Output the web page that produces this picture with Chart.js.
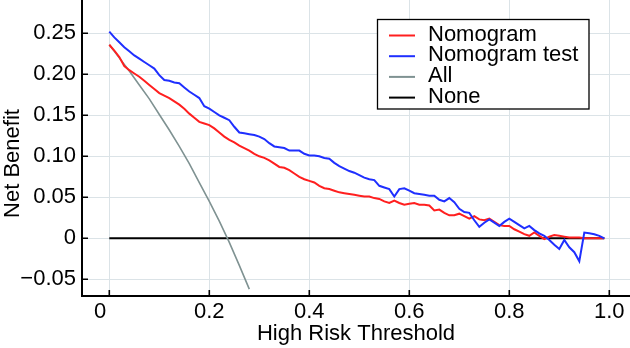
<!DOCTYPE html>
<html><head><meta charset="utf-8">
<script src="https://cdn.jsdelivr.net/npm/chart.js@4/dist/chart.umd.min.js"></script>
<style>html,body{margin:0;padding:0;background:#fff}#c{display:block}</style>
</head><body>
<canvas id="c" width="630" height="348"></canvas>
<script>
// ---- data ----
const thresholds = [0.00,0.01,0.02,0.03,0.04,0.05,0.06,0.07,0.08,0.09,
  0.10,0.11,0.12,0.13,0.14,0.15,0.16,0.17,0.18,0.19,
  0.20,0.21,0.22,0.23,0.24,0.25,0.26,0.27,0.28,0.29,
  0.30,0.31,0.32,0.33,0.34,0.35,0.36,0.37,0.38,0.39,
  0.40,0.41,0.42,0.43,0.44,0.45,0.46,0.47,0.48,0.49,
  0.50,0.51,0.52,0.53,0.54,0.55,0.56,0.57,0.58,0.59,
  0.60,0.61,0.62,0.63,0.64,0.65,0.66,0.67,0.68,0.69,
  0.70,0.71,0.72,0.73,0.74,0.75,0.76,0.77,0.78,0.79,
  0.80,0.81,0.82,0.83,0.84,0.85,0.86,0.87,0.88,0.89,
  0.90,0.91,0.92,0.93,0.94,0.95,0.96,0.97,0.98,0.99];
const nomogram = [0.236,0.229,0.221,0.210,0.205,0.201,0.197,0.192,0.187,0.182,
  0.177,0.174,0.171,0.167,0.163,0.158,0.152,0.147,0.142,0.140,
  0.138,0.134,0.129,0.124,0.120,0.117,0.113,0.110,0.107,0.103,
  0.100,0.098,0.095,0.091,0.087,0.086,0.083,0.079,0.075,0.072,
  0.070,0.068,0.064,0.061,0.060,0.058,0.056,0.055,0.054,0.053,
  0.052,0.051,0.051,0.049,0.048,0.045,0.043,0.046,0.043,0.041,
  0.042,0.043,0.041,0.041,0.040,0.034,0.035,0.031,0.028,0.028,
  0.030,0.027,0.024,0.027,0.023,0.022,0.024,0.020,0.016,0.015,
  0.015,0.011,0.008,0.005,0.003,0.007,0.003,-0.001,0.002,0.004,
  0.003,0.002,0.001,0.001,0.001,0.000,0.000,0.000,0.000,0.000];
const nomogramTest = [0.252,0.245,0.239,0.233,0.228,0.223,0.219,0.215,0.211,0.207,
  0.199,0.193,0.192,0.190,0.189,0.184,0.179,0.175,0.171,0.161,
  0.158,0.154,0.150,0.147,0.144,0.136,0.129,0.128,0.127,0.126,
  0.124,0.121,0.116,0.112,0.111,0.110,0.107,0.107,0.107,0.103,
  0.101,0.101,0.100,0.098,0.097,0.092,0.088,0.085,0.082,0.080,
  0.077,0.074,0.072,0.071,0.064,0.062,0.060,0.051,0.060,0.061,
  0.058,0.055,0.054,0.053,0.052,0.052,0.047,0.045,0.049,0.044,
  0.036,0.032,0.031,0.022,0.014,0.019,0.023,0.019,0.015,0.020,
  0.024,0.020,0.016,0.012,0.015,0.010,0.006,0.003,-0.002,-0.008,
  -0.013,-0.002,-0.011,-0.017,-0.028,0.007,0.006,0.005,0.003,0.000];
const allThresholds = [0.00,0.02,0.04,0.06,0.08,0.10,0.12,0.14,0.16,0.18,0.20,0.22,0.24,0.26,0.28];
const treatAll = [0.236,0.220,0.204,0.187,0.170,0.151,0.132,0.112,0.091,0.068,0.045,0.021,-0.005,-0.033,-0.062];
const noneThresholds = [0.00,0.99];
const treatNone = [0,0];
const seriesNames = ['Nomogram','Nomogram test','All','None'];
const seriesColors = ['#ff1f1f','#1f2fff','#7f9292','#000000'];
const xTicks = [0,0.2,0.4,0.6,0.8,1.0];
const xTickLabels = ['0','0.2','0.4','0.6','0.8','1.0'];
const yTicks = [-0.05,0,0.05,0.10,0.15,0.20,0.25];
const yTickLabels = ['\u22120.05','0','0.05','0.10','0.15','0.20','0.25'];
const xTitle = 'High Risk Threshold';
const yTitle = 'Net Benefit';

// ---- chart ----
const FONT = "'Liberation Sans', Arial, Helvetica, sans-serif";
const FS = 22;
const pts = (xs, ys) => xs.map((x, i) => ({x: x, y: ys[i]}));

const axesPlugin = {
  id: 'axesPlugin',
  afterDatasetsDraw(chart) {
    const {ctx, chartArea: a, scales: {x, y}} = chart;
    ctx.save();
    ctx.strokeStyle = '#000';
    ctx.lineWidth = 2;
    ctx.beginPath();
    ctx.moveTo(a.left, a.top);
    ctx.lineTo(a.left, a.bottom);
    ctx.lineTo(a.right, a.bottom);
    ctx.stroke();
    ctx.lineWidth = 1.6;
    ctx.beginPath();
    xTicks.forEach(v => { const p = x.getPixelForValue(v); ctx.moveTo(p, a.bottom); ctx.lineTo(p, a.bottom - 6); });
    yTicks.forEach(v => { const p = y.getPixelForValue(v); ctx.moveTo(a.left, p); ctx.lineTo(a.left + 6, p); });
    ctx.stroke();
    ctx.restore();
  },
  afterDraw(chart) {
    const ctx = chart.ctx;
    ctx.save();
    // y title
    ctx.font = FS + 'px ' + FONT;
    ctx.fillStyle = '#000';
    ctx.translate(19, 163.5);
    ctx.rotate(-Math.PI / 2);
    ctx.textAlign = 'center';
    ctx.textBaseline = 'alphabetic';
    ctx.fillText(yTitle, 0, 0);
    ctx.restore();
    // legend
    ctx.save();
    ctx.fillStyle = '#fff';
    ctx.fillRect(377.5, 19.5, 211.5, 89.5);
    ctx.strokeStyle = '#000';
    ctx.lineWidth = 1.3;
    ctx.strokeRect(377.5, 19.5, 211.5, 89.5);
    ctx.font = FS + 'px ' + FONT;
    ctx.textAlign = 'left';
    ctx.textBaseline = 'middle';
    chart.data.datasets.forEach((ds, i) => {
      const yy = 34.5 + i * 20.7;
      ctx.strokeStyle = ds.borderColor;
      ctx.lineWidth = 2;
      ctx.beginPath();
      ctx.moveTo(389, yy + 1);
      ctx.lineTo(415, yy + 1);
      ctx.stroke();
      ctx.fillStyle = '#000';
      ctx.fillText(ds.label, 428, yy);
    });
    ctx.restore();
  }
};

new Chart(document.getElementById('c'), {
  type: 'scatter',
  data: {
    datasets: [
      {label: seriesNames[0], data: pts(thresholds, nomogram), borderColor: seriesColors[0], borderWidth: 2, showLine: true, pointRadius: 0, order: 2},
      {label: seriesNames[1], data: pts(thresholds, nomogramTest), borderColor: seriesColors[1], borderWidth: 2, showLine: true, pointRadius: 0, order: 1},
      {label: seriesNames[2], data: pts(allThresholds, treatAll), borderColor: seriesColors[2], borderWidth: 1.6, showLine: true, pointRadius: 0, order: 3},
      {label: seriesNames[3], data: pts(noneThresholds, treatNone), borderColor: seriesColors[3], borderWidth: 2, showLine: true, pointRadius: 0, order: 4}
    ]
  },
  options: {
    responsive: false,
    animation: false,
    devicePixelRatio: 1,
    layout: {padding: {top: 0, right: 0, left: 0, bottom: 0}},
    plugins: {legend: {display: false}, tooltip: {enabled: false}},
    scales: {
      x: {
        type: 'linear', min: -0.0546, max: 1.0414,
        afterBuildTicks(s) { s.ticks = xTicks.map(v => ({value: v})); },
        afterFit(s) { s.height = 52; s.paddingLeft = 0; s.paddingRight = 0; },
        ticks: {
          callback: (v) => {
            const i = xTicks.findIndex(t => Math.abs(t - v) < 1e-9);
            if (i < 0) return '';
            // the reference prints its "0" label slightly left of the tick
            return i === 0 ? xTickLabels[i] + '   ' : xTickLabels[i];
          },
          font: {family: FONT, size: FS}, color: '#000', padding: 3, maxRotation: 0, autoSkip: false
        },
        grid: {color: '#dbe3e7', lineWidth: 1, drawTicks: false},
        border: {display: false},
        title: {display: true, text: xTitle, font: {family: FONT, size: FS}, color: '#000', padding: {top: 0, bottom: 1}}
      },
      y: {
        type: 'linear', min: -0.0704, max: 0.2906,
        afterBuildTicks(s) { s.ticks = yTicks.map(v => ({value: v})); },
        afterFit(s) { s.width = 82; s.paddingTop = 0; s.paddingBottom = 0; },
        ticks: {
          callback: (v) => { const i = yTicks.findIndex(t => Math.abs(t - v) < 1e-9); return i >= 0 ? yTickLabels[i] : ''; },
          font: {family: FONT, size: FS}, color: '#000', padding: 6, autoSkip: false
        },
        grid: {color: '#dbe3e7', lineWidth: 1, drawTicks: false},
        border: {display: false},
        title: {display: false}
      }
    }
  },
  plugins: [axesPlugin]
});
</script>
</body></html>
